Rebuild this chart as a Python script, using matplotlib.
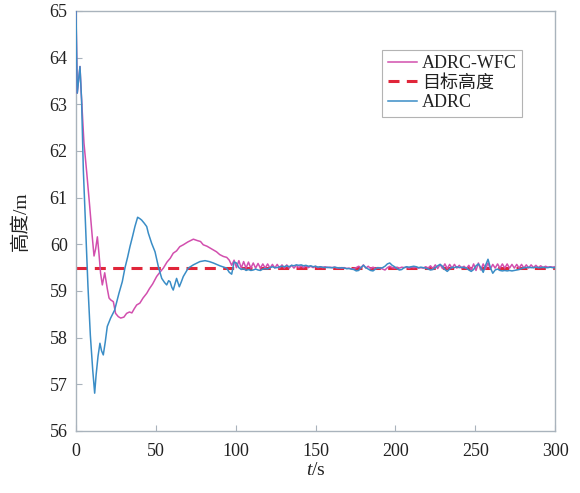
import numpy as np
import matplotlib
matplotlib.use("Agg")
import matplotlib.pyplot as plt

plt.rcParams["font.family"] = ["Liberation Serif", "Noto Sans CJK SC"]
plt.rcParams["mathtext.fontset"] = "custom"
plt.rcParams["mathtext.it"] = "Liberation Serif:italic"
plt.rcParams["mathtext.rm"] = "Liberation Serif"

# ---- data -------------------------------------------------------------
target_height = 59.5

# transient part of each response (time in s, height in m)
t_wfc_start = [0, 0.8, 2.5, 3.3, 5.0, 6.7, 8.5, 10.2, 11.3, 12.3, 13.4, 14.4,
               15.4, 16.5, 18.0, 19.6, 20.7, 21.7, 23.4, 24.8, 26.5, 28.0,
               30.0, 31.7, 33.5, 35.0, 36.5, 38.0, 40.0, 42.0, 44.3, 46.0,
               48.0, 50.5, 52.5, 54.7, 57.0, 59.0, 60.9, 63.0, 65.0, 67.2,
               70.0, 73.5, 76.0, 78.0, 79.7, 82.0, 84.0, 86.0, 88.0, 90.0,
               92.3, 94.4]
h_wfc_start = [65.0, 63.24, 63.81, 63.24, 62.17, 61.55, 60.85, 60.16, 59.75,
               59.9, 60.16, 59.8, 59.38, 59.13, 59.39, 59.05, 58.85, 58.81,
               58.77, 58.52, 58.45, 58.42, 58.44, 58.52, 58.55, 58.53, 58.62,
               58.7, 58.74, 58.85, 58.95, 59.05, 59.15, 59.31, 59.4, 59.49,
               59.62, 59.7, 59.81, 59.86, 59.95, 59.99, 60.05, 60.11, 60.08,
               60.06, 59.99, 59.96, 59.92, 59.88, 59.84, 59.78, 59.74, 59.72]

t_adrc_start = [0, 0.8, 2.5, 3.5, 4.6, 6.0, 7.5, 9.0, 10.5, 11.7, 12.6, 13.8,
                15.0, 16.0, 17.1, 18.3, 19.6, 21.7, 24.2, 26.9, 29.0, 30.7,
                32.3, 33.8, 35.5, 36.9, 38.6, 40.0, 41.1, 42.8, 44.3, 45.3,
                47.4, 49.5, 51.6, 53.7, 55.5, 56.8, 58.0, 58.9, 60.0, 60.9,
                62.0, 63.0, 64.7, 66.0, 67.2, 70.3, 73.5, 77.6, 80.8, 83.5,
                86.0, 90.1, 94.3]
h_adrc_start = [65.0, 63.24, 63.81, 63.1, 61.6, 60.4, 59.1, 58.05, 57.3, 56.81,
                57.2, 57.6, 57.88, 57.72, 57.63, 57.9, 58.24, 58.42, 58.59,
                58.95, 59.2, 59.5, 59.72, 59.95, 60.18, 60.38, 60.58, 60.55,
                60.52, 60.45, 60.38, 60.24, 60.02, 59.84, 59.52, 59.27, 59.18,
                59.13, 59.22, 59.2, 59.08, 59.02, 59.15, 59.27, 59.09, 59.2,
                59.31, 59.49, 59.56, 59.63, 59.65, 59.63, 59.6, 59.54, 59.49]

# steady-state part, sampled every 1.5 s from 96 s to 300 s
t_tail = np.arange(96.0, 300.01, 1.5)
h_wfc_tail = [
    59.66, 59.55, 59.66, 59.50, 59.65, 59.49, 59.63, 59.49, 59.62, 59.49,
    59.60, 59.49, 59.59, 59.49, 59.58, 59.49, 59.58, 59.49, 59.57, 59.49,
    59.57, 59.49, 59.56, 59.49, 59.56, 59.49, 59.55, 59.49, 59.55, 59.50,
    59.54, 59.50, 59.54, 59.50, 59.53, 59.50, 59.53, 59.50, 59.52, 59.50,
    59.52, 59.50, 59.51, 59.50, 59.51, 59.49, 59.50, 59.49, 59.50, 59.48,
    59.49, 59.47, 59.48, 59.50, 59.53, 59.50, 59.56, 59.49, 59.53, 59.48,
    59.51, 59.48, 59.50, 59.49, 59.47, 59.45, 59.50, 59.53, 59.50, 59.49,
    59.51, 59.49, 59.51, 59.50, 59.51, 59.49, 59.51, 59.50, 59.51, 59.49,
    59.50, 59.49, 59.52, 59.49, 59.54, 59.48, 59.56, 59.48, 59.57, 59.48,
    59.58, 59.48, 59.57, 59.49, 59.57, 59.49, 59.55, 59.49, 59.53, 59.48,
    59.55, 59.45, 59.58, 59.44, 59.60, 59.45, 59.58, 59.47, 59.60, 59.47,
    59.57, 59.49, 59.58, 59.49, 59.58, 59.49, 59.58, 59.49, 59.57, 59.49,
    59.57, 59.49, 59.57, 59.49, 59.56, 59.49, 59.56, 59.50, 59.55, 59.50,
    59.54, 59.50, 59.53, 59.51, 59.52, 59.51, 59.52]
h_adrc_tail = [
    59.40, 59.36, 59.62, 59.60, 59.50, 59.46, 59.48, 59.44, 59.46, 59.44,
    59.45, 59.47, 59.45, 59.44, 59.47, 59.48, 59.47, 59.50, 59.52, 59.50,
    59.50, 59.52, 59.53, 59.52, 59.54, 59.52, 59.55, 59.54, 59.56, 59.55,
    59.56, 59.54, 59.55, 59.53, 59.54, 59.52, 59.53, 59.51, 59.52, 59.51,
    59.50, 59.51, 59.50, 59.50, 59.51, 59.50, 59.49, 59.50, 59.49, 59.48,
    59.48, 59.47, 59.46, 59.43, 59.44, 59.50, 59.55, 59.50, 59.47, 59.44,
    59.43, 59.47, 59.50, 59.49, 59.50, 59.53, 59.58, 59.60, 59.55, 59.52,
    59.48, 59.45, 59.46, 59.50, 59.52, 59.51, 59.52, 59.53, 59.52, 59.50,
    59.51, 59.50, 59.49, 59.47, 59.45, 59.46, 59.50, 59.54, 59.57, 59.53,
    59.46, 59.42, 59.47, 59.51, 59.50, 59.52, 59.50, 59.51, 59.50, 59.49,
    59.45, 59.42, 59.46, 59.54, 59.58, 59.50, 59.40, 59.55, 59.68, 59.50,
    59.38, 59.45, 59.47, 59.44, 59.43, 59.44, 59.43, 59.44, 59.43, 59.44,
    59.45, 59.46, 59.48, 59.50, 59.50, 59.51, 59.50, 59.50, 59.51, 59.50,
    59.50, 59.51, 59.50, 59.50, 59.51, 59.50, 59.50]

x_ticks = [0, 50, 100, 150, 200, 250, 300]
y_ticks = [56, 57, 58, 59, 60, 61, 62, 63, 64, 65]
labels = ["ADRC-WFC", "目标高度", "ADRC"]

# ---- figure -----------------------------------------------------------
t_wfc = np.concatenate([t_wfc_start, t_tail])
h_wfc = np.concatenate([h_wfc_start, h_wfc_tail])
t_adrc = np.concatenate([t_adrc_start, t_tail])
h_adrc = np.concatenate([h_adrc_start, h_adrc_tail])

fig = plt.figure(figsize=(5.8, 4.93), dpi=100)
ax = fig.add_axes([0.131, 0.1258, 0.826, 0.8519])

c_wfc = "#D24FAE"
c_adrc = "#3A8DC6"
c_ref = "#E0263A"

ax.plot(t_wfc, h_wfc, color=c_wfc, lw=1.1, label=labels[0], zorder=3)
ax.plot([0, 300], [target_height, target_height], color=c_ref, lw=2.2,
        ls=(0, (3.6, 2.4)), label=labels[1], zorder=2)
ax.plot(t_adrc, h_adrc, color=c_adrc, lw=1.1, label=labels[2], zorder=4)

ax.set_xlim(0, 300)
ax.set_ylim(56, 65)
ax.set_xticks(x_ticks)
ax.set_yticks(y_ticks)

spine_c = "#A9B3BC"
for s in ax.spines.values():
    s.set_color(spine_c)
    s.set_linewidth(1.0)
ax.tick_params(direction="in", length=4, width=0.8, color=spine_c,
               labelsize=13, labelcolor="#222222", top=False, right=False)
ax.tick_params(axis="x", pad=9)
ax.tick_params(axis="y", pad=6)

ax.set_xlabel(r"$t$/s", fontsize=14, color="#222222", labelpad=1)
ax.set_ylabel("高度/m", fontsize=14, color="#222222", labelpad=14)

leg = ax.legend(loc="upper right", bbox_to_anchor=(0.932, 0.908),
                fontsize=13, frameon=True, fancybox=False, handlelength=1.6,
                handletextpad=0.3, borderpad=0.3, labelspacing=0.15,
                borderaxespad=0.0)
leg.get_frame().set_edgecolor("#A0A0A0")
leg.get_frame().set_linewidth(0.8)
for txt in leg.get_texts():
    txt.set_color("#222222")

fig.savefig("out.png", dpi=100)
